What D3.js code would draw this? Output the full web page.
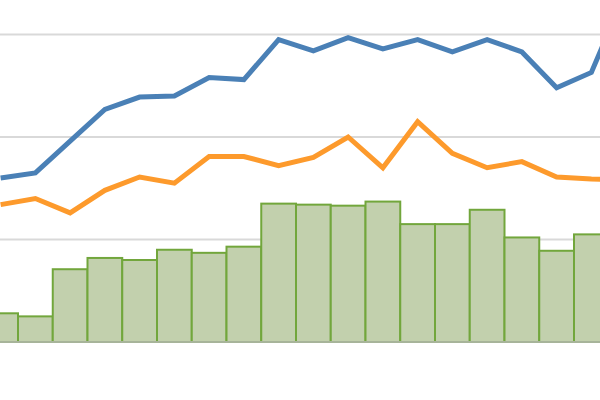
<!DOCTYPE html>
<html lang="en">
<head>
  <meta charset="UTF-8">
  <title>Bars with two lines</title>
  <style>
    html, body { margin: 0; padding: 0; background: #fff; }
    svg { display: block; }
    .grid line { stroke: #d9d9d9; stroke-width: 2px; }
    .bar { fill: #c2d0ad; stroke: #72a63c; stroke-width: 2px; }
    .line { fill: none; stroke-width: 5px; stroke-linejoin: miter; }
  </style>
</head>
<body>
<svg width="600" height="400"></svg>
<script src="https://d3js.org/d3.v7.min.js"></script>
<script>
// values (first and last categories are cut by the frame)
const categories = d3.range(19).map(i => "C" + (i + 1));
const barValues  = [28, 25, 71, 82, 80, 90, 87, 93, 135, 134, 133, 137, 115, 115, 129, 102, 89, 105, 110];
const blueValues = [160, 165, 196, 227, 239, 240, 258, 256, 295, 284, 297, 286, 295, 283, 295, 283, 248, 263, 343];
const orangeValues = [134, 140, 126, 148, 161, 155, 181, 181, 172, 180, 200, 170, 215, 184, 170, 176, 161, 159, 158];
const gridTicks = [100, 200, 300];

const svg = d3.select("svg");
const step = 34.75;
const x0 = 18 - step;

const x = d3.scaleBand()
    .domain(categories)
    .range([x0, x0 + step * categories.length])
    .paddingInner(0)
    .paddingOuter(0);

const y = d3.scaleLinear().domain([0, 300]).range([342, 34.5]);

svg.append("g")
    .attr("class", "grid")
    .selectAll("line")
    .data(gridTicks)
    .join("line")
    .attr("x1", 0)
    .attr("x2", 600)
    .attr("y1", d => y(d))
    .attr("y2", d => y(d));

svg.append("g")
    .selectAll("rect")
    .data(barValues)
    .join("rect")
    .attr("class", "bar")
    .attr("x", (d, i) => x(categories[i]))
    .attr("y", d => y(d))
    .attr("width", x.bandwidth())
    .attr("height", d => y(0) - y(d));

svg.append("line")
    .attr("x1", 0).attr("x2", 600)
    .attr("y1", y(0)).attr("y2", y(0))
    .attr("stroke", "#a7b49a")
    .attr("stroke-width", 2);

const line = d3.line()
    .x((d, i) => x(categories[i]) + x.bandwidth() / 2)
    .y(d => y(d));

svg.append("path")
    .datum(orangeValues)
    .attr("class", "line")
    .attr("stroke", "#fd9a2c")
    .attr("d", line);

svg.append("path")
    .datum(blueValues)
    .attr("class", "line")
    .attr("stroke", "#4a80b6")
    .attr("d", line);
</script>
</body>
</html>
